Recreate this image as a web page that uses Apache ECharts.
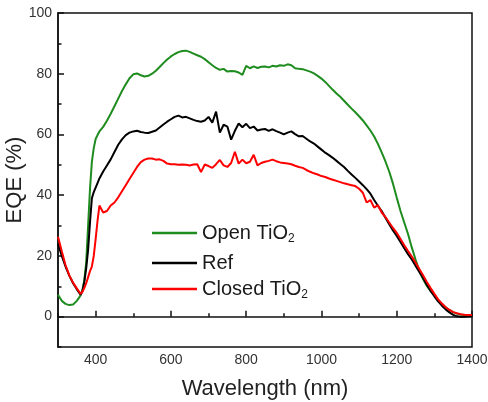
<!DOCTYPE html>
<html>
<head>
<meta charset="utf-8">
<script src="https://cdn.jsdelivr.net/npm/echarts@6/dist/echarts.min.js"></script>
<style>
html,body{margin:0;padding:0;background:#fff;}
#chart{width:488px;height:402px;}
</style>
</head>
<body>
<div id="chart"></div>
<script>
const wavelength = [300,310,320,330,340,350,360,365,370,375,380,385,390,395,400,405,410,420,430,440,450,460,470,480,490,500,510,520,530,540,550,560,570,580,590,600,610,620,630,640,650,660,670,680,690,700,710,720,730,740,750,760,770,780,790,800,810,820,830,840,850,860,870,880,890,900,910,920,930,940,950,960,970,980,990,1000,1010,1020,1030,1040,1050,1060,1070,1080,1090,1100,1110,1120,1130,1140,1150,1160,1170,1180,1190,1200,1210,1220,1230,1240,1250,1260,1270,1280,1290,1300,1310,1320,1330,1340,1350,1360,1370,1380,1390,1400];

const openTiO2 = [7.2,5.2,4.2,3.8,4.0,5.2,7.0,8.8,12,18,30,42,51,55.5,58.5,59.8,61,62.5,64.5,66.8,69.3,71.8,74.3,76.5,78.5,79.8,80.1,79.5,79.1,79.3,80,81,82.2,83.5,84.7,85.7,86.5,87.1,87.5,87.6,87.2,86.6,86.1,85.6,84.8,83.8,82.8,81.9,81.3,81.6,80.7,80.9,80.8,80.4,79.6,82.6,81.8,82.4,81.9,82.3,82.4,82.1,82.6,82.4,82.8,82.6,83.1,82.8,81.8,81.6,81.5,81.1,80.7,80.1,79.3,78.4,77.3,76,74.7,73.5,72.4,71.1,69.8,68.5,67.3,66,64.6,63,61.3,59.3,56.9,54.1,51.1,47.8,43.8,39.2,34.8,31,27.2,22.8,18.8,15.2,12.4,10.1,8.4,7,5.5,4.2,3.1,2.2,1.5,1.0,0.7,0.5,0.4,0.4];

const ref = [24,20,16.5,13.5,11,9,7.2,8.5,11.5,16,22,31,39,41,42.5,44,45.5,47.8,49.8,51.8,54.2,56.6,58.4,59.8,60.6,61,61.2,60.8,60.6,60.5,60.9,61.3,62.3,63.3,64.2,65,65.8,66.2,65.6,65.8,65.3,64.8,64.4,64.2,64.6,65.8,63.9,67.5,60.6,63.2,62.6,58.3,61.2,63.6,62.4,63.5,62.1,62.6,61.3,61.6,61.8,61.2,61.7,61.1,60.6,60,60.6,61,60.1,59.4,59.5,58.6,57.7,57,56,55,54,53.2,52.3,51.3,50.3,49.3,48,46.8,45.7,44.5,43.3,42,40.5,38.4,36.5,34.8,32.6,30.4,28.4,26.6,24.6,22.5,20.6,18.8,16.8,14.7,12.7,10.5,8.5,6.7,5,3.6,2.4,1.4,0.6,0.1,0,0,0.1,0.3];

const closedTiO2 = [26.3,21.5,17,13.6,11.2,9.3,7.5,8.2,9.5,11,13,15,16.5,20,25.5,31.5,36.6,34.3,34.8,36.6,37.6,39.3,41.3,43.3,45.3,47.3,49.3,50.9,51.7,52.1,52.1,51.7,51.8,51.3,50.4,50.2,50.2,50,50.1,50,49.8,50.1,50.2,47.6,50.1,49.6,49,50.2,51.6,49.8,49.3,50.6,54.3,50.4,51.7,50.5,51,53.3,49.8,50.6,51,51.3,51.7,51.2,50.8,50.6,50.4,50.2,49.7,49.3,49,48.3,47.7,47.2,46.8,46.3,46,45.5,45.1,44.7,44.3,43.9,43.6,43.3,43,42.1,40.8,37.6,38.4,35.9,36.7,34.3,32.8,31,29.2,27.6,25.6,23.5,21.6,19.8,17.8,15.7,13.6,11.4,9.4,7.5,5.7,4.3,3.1,2.2,1.5,1.1,0.8,0.6,0.5,0.5];

const xTickLabels = [400,600,800,1000,1200,1400];
const yTickLabels = [0,20,40,60,80,100];
const seriesNames = ['Open TiO2','Ref','Closed TiO2'];

const pairs = (ys) => wavelength.map((w, i) => [w, ys[i]]);
const FONT = 'Liberation Sans, Arial, sans-serif';

const chart = echarts.init(document.getElementById('chart'), null, {renderer: 'canvas'});

const richLegend = {
  t: {fontSize: 20, lineHeight: 24, color: '#1a1a1a', fontFamily: FONT},
  s: {fontSize: 12, lineHeight: 12, verticalAlign: 'bottom', color: '#1a1a1a', fontFamily: FONT}
};
function legendFmt(name) {
  if (name.endsWith('TiO2')) return '{t|' + name.slice(0, -1) + '}{s|2}';
  return '{t|' + name + '}';
}
function mkLegend(name, top) {
  return {
    data: [name], left: 152, top: top, padding: 0,
    icon: 'rect', itemWidth: 45, itemHeight: 2.5,
    formatter: legendFmt,
    textStyle: {rich: richLegend, fontSize: 20, fontFamily: FONT, color: '#1a1a1a'},
    selectedMode: false
  };
}
const plain = (v) => String(v);

chart.setOption({
  animation: false,
  backgroundColor: '#fff',
  grid: {left: 58, right: 16, top: 13, bottom: 55, outerBoundsMode: 'none', containLabel: false, show: true, borderColor: '#111', borderWidth: 1.5, backgroundColor: 'transparent'},
  legend: [mkLegend(seriesNames[0], 223), mkLegend(seriesNames[1], 253), mkLegend(seriesNames[2], 279)],
  xAxis: [{
    type: 'value', min: 300, max: 1400, position: 'bottom',
    name: 'Wavelength (nm)', nameLocation: 'middle', nameGap: 31, nameMoveOverlap: false,
    nameTextStyle: {fontSize: 22, color: '#222', fontFamily: FONT},
    axisLine: {show: true, lineStyle: {color: '#111', width: 1.5}},
    axisTick: {show: true, inside: true, length: 6, customValues: xTickLabels, lineStyle: {color: '#111', width: 1.5}},
    axisLabel: {show: true, customValues: xTickLabels, formatter: plain, fontSize: 14, color: '#333', fontFamily: FONT, margin: 6},
    splitLine: {show: false}
  }, {
    type: 'value', min: 300, max: 1400, interval: 100, position: 'bottom',
    axisLine: {show: false},
    axisTick: {show: true, inside: true, length: 3.5, lineStyle: {color: '#111', width: 1.5}},
    axisLabel: {show: false}, splitLine: {show: false}
  }],
  yAxis: [{
    type: 'value', min: -10, max: 100, position: 'left',
    name: 'EQE (%)', nameLocation: 'middle', nameGap: 32, nameMoveOverlap: false,
    nameTextStyle: {fontSize: 22, color: '#222', fontFamily: FONT},
    axisLine: {show: true, lineStyle: {color: '#111', width: 1.5}},
    axisTick: {show: true, inside: true, length: 6, customValues: yTickLabels, lineStyle: {color: '#111', width: 1.5}},
    axisLabel: {show: true, customValues: yTickLabels, formatter: plain, fontSize: 14, color: '#333', fontFamily: FONT, margin: 6},
    splitLine: {show: false}
  }, {
    type: 'value', min: -10, max: 100, interval: 10, position: 'left',
    axisLine: {show: false},
    axisTick: {show: true, inside: true, length: 3.5, lineStyle: {color: '#111', width: 1.5}},
    axisLabel: {show: false}, splitLine: {show: false}
  }],
  series: [
    {name: seriesNames[0], type: 'line', data: pairs(openTiO2), showSymbol: false, color: '#1e8c1e', lineStyle: {width: 2, color: '#1e8c1e'}},
    {name: seriesNames[1], type: 'line', data: pairs(ref), showSymbol: false, color: '#000', lineStyle: {width: 2, color: '#000'}},
    {name: seriesNames[2], type: 'line', data: pairs(closedTiO2), showSymbol: false, color: '#ff0000', lineStyle: {width: 2, color: '#ff0000'}}
  ]
});
</script>
</body>
</html>
